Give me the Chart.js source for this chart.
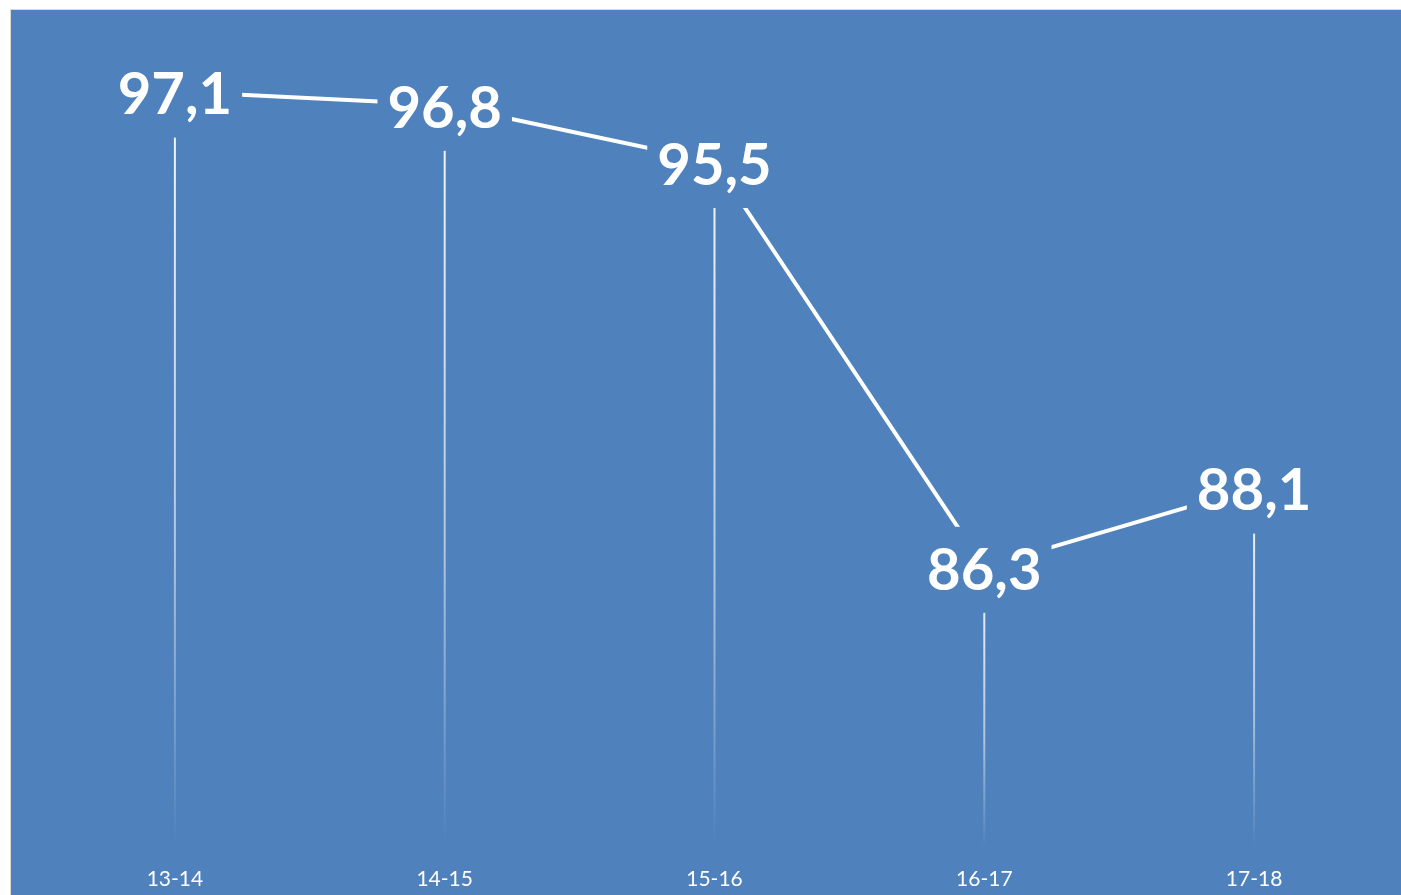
<!DOCTYPE html>
<html>
<head>
<meta charset="utf-8">
<script src="https://cdn.jsdelivr.net/npm/chart.js@4.4.0/dist/chart.umd.min.js"></script>
<style>
  html, body { margin: 0; padding: 0; background: #fff; overflow: hidden; }
  #box {
    position: absolute; left: 10px; top: 9px;
    width: 1390px; height: 885px;
    border-left: 1px solid #d9d9d9; border-top: 1px solid #d9d9d9;
    background: #4f81bd;
  }
</style>
</head>
<body>
<div id="box"><canvas id="chart" width="1390" height="885"></canvas></div>
<script>
var seasons = ['13-14', '14-15', '15-16', '16-17', '17-18'];
var values = [97.1, 96.8, 95.5, 86.3, 88.1];

var bg = '#4f81bd';

function fmt(v) {
    return v.toFixed(1).replace('.', ',');
}

// drop lines from each point down to the axis, fading out
var dropLines = {
    id: 'dropLines',
    beforeDatasetsDraw: function (chart) {
        var ctx = chart.ctx;
        var bottom = chart.chartArea.bottom;
        var meta = chart.getDatasetMeta(0);
        ctx.save();
        meta.data.forEach(function (pt) {
            var g = ctx.createLinearGradient(0, pt.y, 0, bottom + 5);
            g.addColorStop(0, 'rgba(255,255,255,0.95)');
            g.addColorStop(0.6, 'rgba(255,255,255,0.55)');
            g.addColorStop(1, 'rgba(255,255,255,0)');
            ctx.strokeStyle = g;
            ctx.lineWidth = 2;
            ctx.beginPath();
            ctx.moveTo(pt.x, pt.y);
            ctx.lineTo(pt.x, bottom + 5);
            ctx.stroke();
        });
        ctx.restore();
    }
};

// value labels on a box filled with the background colour
var valueLabels = {
    id: 'valueLabels',
    afterDatasetsDraw: function (chart) {
        var ctx = chart.ctx;
        var meta = chart.getDatasetMeta(0);
        ctx.save();
        ctx.font = 'bold 58px Lato';
        ctx.textAlign = 'center';
        ctx.textBaseline = 'middle';
        meta.data.forEach(function (pt, i) {
            var txt = fmt(values[i]);
            var w = ctx.measureText(txt).width + 20;
            ctx.fillStyle = bg;
            ctx.fillRect(pt.x - w / 2, pt.y - 40, w, 86);
            ctx.fillStyle = '#ffffff';
            ctx.fillText(txt, pt.x, pt.y + 4);
        });
        ctx.restore();
    }
};

var ctx = document.getElementById('chart').getContext('2d');
var chart = new Chart(ctx, {
    type: 'line',
    data: {
        labels: seasons,
        datasets: [{
            data: values,
            borderColor: '#ffffff',
            borderWidth: 4,
            pointRadius: 0,
            tension: 0
        }]
    },
    options: {
        responsive: false,
        animation: false,
        layout: { padding: { left: 29, right: 12, top: 42, bottom: 0 } },
        plugins: {
            legend: { display: false },
            tooltip: { enabled: false }
        },
        scales: {
            x: {
                offset: true,
                grid: { display: false },
                border: { display: false },
                afterFit: function (scale) { scale.height = 51; },
                ticks: {
                    color: '#ffffff',
                    padding: 15,
                    font: { family: 'Lato', size: 21 }
                }
            },
            y: {
                display: false,
                min: 80,
                max: 98
            }
        }
    },
    plugins: [dropLines, valueLabels]
});
</script>
</body>
</html>
